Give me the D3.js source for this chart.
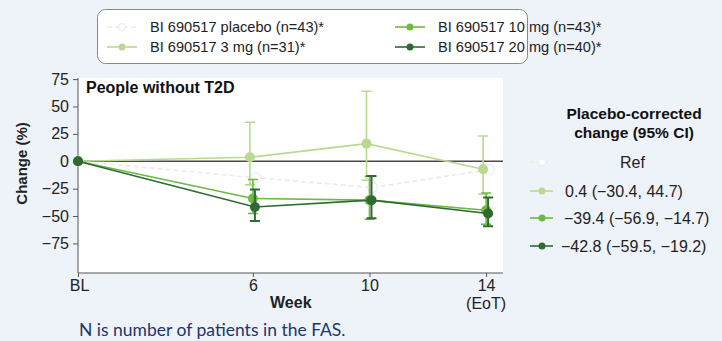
<!DOCTYPE html>
<html>
<head>
<meta charset="utf-8">
<script src="https://cdn.jsdelivr.net/npm/d3@7"></script>
<style>
  body { margin: 0; background: #eef3f9; }
  svg { display: block; font-family: "Liberation Sans", Arial, sans-serif; }
</style>
</head>
<body>
<div id="chart"></div>
<script>
// chart values
var weeks = [0, 6, 10, 14];
var weekLabels = ["BL", "6", "10", "14"];
var yTicks = [75, 50, 25, 0, -25, -50, -75];

var seriesNames = ["BI 690517 placebo (n=43)*", "BI 690517 3 mg (n=31)*",
                   "BI 690517 10 mg (n=43)*", "BI 690517 20 mg (n=40)*"];
var placebo = [0, -15, -24, -7.6];
var mg3 = [0, 3.6, 16.1, -7.3];
var mg3Lo = [null, -21.6, -17.3, -30.1];
var mg3Hi = [null, 35.6, 63.9, 23.1];
var mg10 = [0, -34, -35.5, -44.7];
var mg10Lo = [null, -47.7, -53, -57.5];
var mg10Hi = [null, -16.7, -13.7, -29];
var mg20 = [0, -41.7, -35.5, -47.7];
var mg20Lo = [null, -54.5, -52, -59.3];
var mg20Hi = [null, -25.8, -13.5, -33];
var corrected = ["Ref", "0.4 (\u221230.4, 44.7)", "\u221239.4 (\u221256.9, \u221214.7)", "\u221242.8 (\u221259.5, \u221219.2)"];

var width = 722,
    height = 341;

var colors = ["#ebebeb", "#b7da90", "#6cb943", "#2f6a33"];
var dodge = [3, -3, 0, 2];   // little sideways shifts so the bars don't sit on top of each other

var x = d3.scaleLinear().domain([0, 14.58]).range([78, 503]);
var y = d3.scaleLinear().domain([-102, 76]).range([273, 78]);

var svg = d3.select("#chart").append("svg")
    .attr("width", width)
    .attr("height", height);

// plot area
svg.append("rect")
    .attr("x", x(0)).attr("y", y(76))
    .attr("width", x(14.58) - x(0))
    .attr("height", y(-102) - y(76))
    .attr("fill", "#ffffff");

// axes
var yAxis = svg.append("g")
    .attr("transform", "translate(" + x(0) + ",0)")
    .call(d3.axisLeft(y).tickValues(yTicks).tickSize(5).tickPadding(4)
      .tickFormat(function(d) { return d < 0 ? "\u2212" + Math.abs(d) : d; }));
yAxis.select(".domain").attr("stroke", "#555").attr("d", "M0," + y(76) + "V" + y(-102));
yAxis.selectAll(".tick line").attr("stroke", "#555");
yAxis.selectAll("text").style("font-size", "16px").attr("fill", "#222");

var xAxis = svg.append("g")
    .attr("transform", "translate(0," + y(-102) + ")")
    .call(d3.axisBottom(x).tickValues(weeks).tickSize(4).tickPadding(3)
      .tickFormat(function(d, i) { return weekLabels[i]; }));
xAxis.select(".domain").attr("stroke", "#555").attr("d", "M" + x(0) + ",0H" + x(14.58));
xAxis.selectAll(".tick line").attr("stroke", "#555");
xAxis.selectAll("text").style("font-size", "16px").attr("fill", "#222");
xAxis.selectAll(".tick").filter(function(d) { return d === 0; })
    .select("text").attr("dx", 1);

svg.append("text")
    .attr("x", x(14)).attr("y", 309)
    .attr("text-anchor", "middle")
    .style("font-size", "16px").attr("fill", "#222")
    .text("(EoT)");

svg.append("text")
    .attr("x", x(7.3)).attr("y", 308)
    .attr("text-anchor", "middle")
    .style("font-size", "16px").style("font-weight", "bold").attr("fill", "#222")
    .text("Week");

svg.append("text")
    .attr("transform", "translate(27," + y(-2) + ") rotate(-90)")
    .attr("text-anchor", "middle")
    .style("font-size", "15px").style("font-weight", "bold").attr("fill", "#222")
    .text("Change (%)");

svg.append("text")
    .attr("x", 86).attr("y", 93)
    .style("font-size", "16px").style("font-weight", "bold").attr("fill", "#111")
    .text("People without T2D");

// zero line
svg.append("line")
    .attr("x1", x(0)).attr("x2", x(14.58))
    .attr("y1", y(0)).attr("y2", y(0))
    .attr("stroke", "#4a4a4a").attr("stroke-width", 1.5);

var series = [
  { vals: placebo, lo: null, hi: null },
  { vals: mg3, lo: mg3Lo, hi: mg3Hi },
  { vals: mg10, lo: mg10Lo, hi: mg10Hi },
  { vals: mg20, lo: mg20Lo, hi: mg20Hi }
];

var line = d3.line()
    .x(function(d) { return d.px; })
    .y(function(d) { return y(d.v); });

series.forEach(function(s, k) {
  var pts = s.vals.map(function(v, i) {
    return { px: x(weeks[i]) + (i === 0 ? 0 : dodge[k]), v: v, lo: s.lo ? s.lo[i] : null, hi: s.hi ? s.hi[i] : null };
  });
  var g = svg.append("g");

  g.selectAll(".err")
      .data(pts.filter(function(d) { return d.lo !== null; }))
    .enter().append("path")
      .attr("d", function(d) {
        return "M" + (d.px - 5) + "," + y(d.hi) + "H" + (d.px + 5) +
               "M" + d.px + "," + y(d.hi) + "V" + y(d.lo) +
               "M" + (d.px - 5) + "," + y(d.lo) + "H" + (d.px + 5);
      })
      .attr("fill", "none")
      .attr("stroke", colors[k])
      .attr("stroke-width", k === 3 ? 2 : 1.6);

  g.append("path")
      .attr("d", line(pts))
      .attr("fill", "none")
      .attr("stroke", colors[k])
      .attr("stroke-width", 1.6)
      .attr("stroke-dasharray", k === 0 ? "5,3" : null);

  g.selectAll("circle")
      .data(pts)
    .enter().append("circle")
      .attr("cx", function(d) { return d.px; })
      .attr("cy", function(d) { return y(d.v); })
      .attr("r", 5)
      .attr("fill", k === 0 ? "#ffffff" : colors[k])
      .attr("stroke", colors[k])
      .attr("stroke-width", k === 0 ? 1.2 : 0);
});

// top legend
svg.append("rect")
    .attr("x", 97.5).attr("y", 9.5)
    .attr("width", 430).attr("height", 54)
    .attr("rx", 8)
    .attr("fill", "#ffffff")
    .attr("stroke", "#7f8f78");

var legPos = [[107, 27], [107, 47], [395, 27], [395, 47]];
seriesNames.forEach(function(name, k) {
  var lg = svg.append("g").attr("transform", "translate(" + legPos[k][0] + "," + legPos[k][1] + ")");
  lg.append("line").attr("x1", 0).attr("x2", 30)
    .attr("stroke", colors[k]).attr("stroke-width", 1.6)
    .attr("stroke-dasharray", k === 0 ? "5,3" : null);
  lg.append("circle").attr("cx", 15).attr("r", 3.5)
    .attr("fill", k === 0 ? "#ffffff" : colors[k])
    .attr("stroke", colors[k]).attr("stroke-width", k === 0 ? 1 : 0);
  lg.append("text").attr("x", 43).attr("dy", "0.35em")
    .style("font-size", "14.6px").attr("fill", "#222")
    .text(name);
});

// placebo-corrected panel
svg.append("text")
    .attr("x", 634).attr("y", 119)
    .attr("text-anchor", "middle")
    .style("font-size", "15.5px").style("font-weight", "bold").attr("fill", "#111")
    .text("Placebo-corrected");
svg.append("text")
    .attr("x", 634).attr("y", 138)
    .attr("text-anchor", "middle")
    .style("font-size", "15.5px").style("font-weight", "bold").attr("fill", "#111")
    .text("change (95% CI)");

var rowY = [162, 191, 218, 246];
var rowX = [620, 565, 564, 561];
corrected.forEach(function(t, k) {
  var rg = svg.append("g").attr("transform", "translate(530," + rowY[k] + ")");
  rg.append("line").attr("x1", 0).attr("x2", 23)
    .attr("stroke", colors[k]).attr("stroke-width", 1.6)
    .attr("stroke-dasharray", k === 0 ? "4,3" : null);
  rg.append("circle").attr("cx", 12).attr("r", 3.5)
    .attr("fill", k === 0 ? "#ffffff" : colors[k])
    .attr("stroke", colors[k]).attr("stroke-width", k === 0 ? 1 : 0);
  svg.append("text")
    .attr("x", rowX[k]).attr("y", rowY[k]).attr("dy", "0.35em")
    .style("font-size", "16px").attr("fill", "#222")
    .text(t);
});

// footnote
svg.append("text")
    .attr("x", 79).attr("y", 336)
    .style("font-family", "Lato, 'Open Sans', sans-serif")
    .style("font-size", "17.5px").attr("fill", "#22356b")
    .text("N is number of patients in the FAS.");
</script>
</body>
</html>
